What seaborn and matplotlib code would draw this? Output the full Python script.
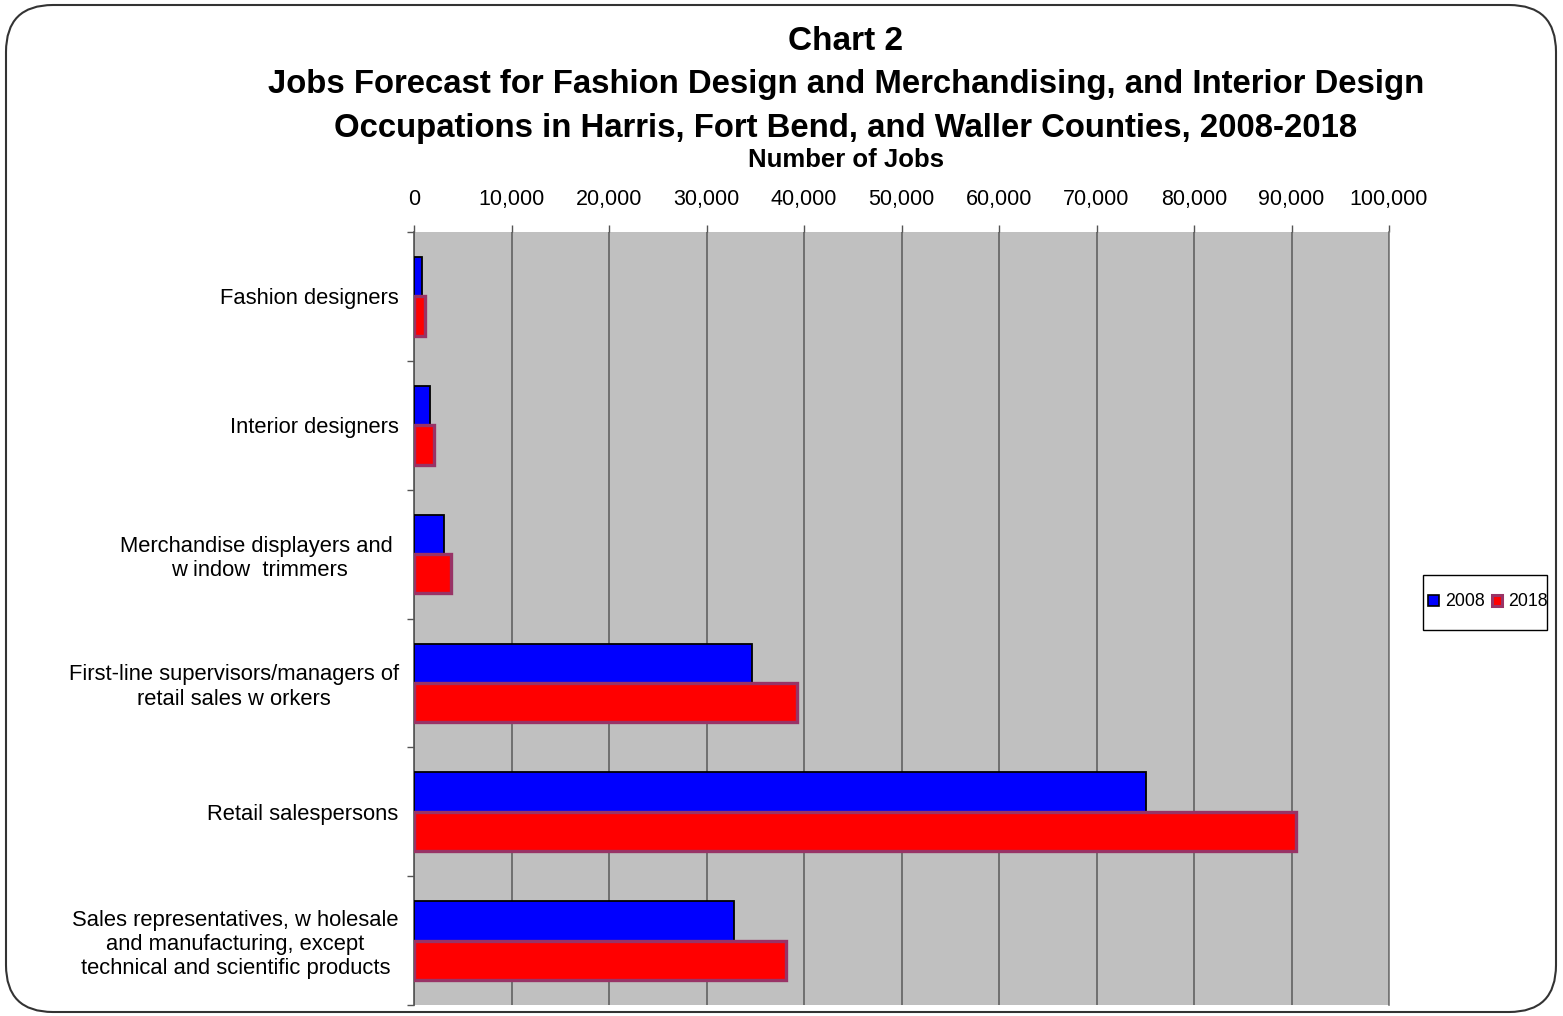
import matplotlib
matplotlib.use("Agg")
import matplotlib.pyplot as plt
import seaborn as sns
import pandas as pd
from matplotlib.patches import FancyBboxPatch, Rectangle, Patch
from matplotlib.ticker import FuncFormatter, MultipleLocator

categories = [
    "Fashion designers",
    "Interior designers",
    "Merchandise displayers and \nw indow  trimmers",
    "First-line supervisors/managers of\nretail sales w orkers",
    "Retail salespersons",
    "Sales representatives, w holesale\nand manufacturing, except\ntechnical and scientific products",
]
jobs_2008 = [850, 1650, 3100, 34700, 75100, 32800]
jobs_2018 = [1100, 2100, 3800, 39300, 90500, 38200]
years = ["2008", "2018"]

df = pd.DataFrame({
    "cat": categories * 2,
    "year": [years[0]] * len(categories) + [years[1]] * len(categories),
    "jobs": jobs_2008 + jobs_2018,
})

sns.set_theme(style="white")
plt.rcParams["font.family"] = ["Liberation Sans", "DejaVu Sans"]
plt.rcParams["text.color"] = "black"
plt.rcParams["xtick.color"] = "black"
plt.rcParams["ytick.color"] = "black"
plt.rcParams["axes.labelcolor"] = "black"

fig = plt.figure(figsize=(15.63, 10.16), dpi=100)
ax = fig.add_axes([414 / 1563, 1 - 1005 / 1016, (1389 - 414) / 1563, (1005 - 232) / 1016])

sns.barplot(data=df, y="cat", x="jobs", hue="year", orient="h",
            palette=["#0000FF", "#FF0000"], saturation=1, width=0.61, gap=0,
            dodge=True, ax=ax, legend=False)

edge = ["black", "#993366"]
lws = [1.3, 2.4]
for cont, ec, lw in zip(ax.containers, edge, lws):
    for p in cont:
        p.set_edgecolor(ec)
        p.set_linewidth(lw)
        p.set_zorder(3)

ax.set_facecolor("#C0C0C0")
ax.set_xlim(0, 100000)
ax.set_ylim(len(categories) - 0.5, -0.5)
ax.xaxis.set_major_locator(MultipleLocator(10000))
ax.xaxis.set_major_formatter(FuncFormatter(lambda v, p: f"{int(v):,}"))
ax.xaxis.tick_top()
ax.xaxis.set_label_position("top")
ax.grid(axis="x", color="#5a5a5a", linewidth=1.1, zorder=1)
ax.set_axisbelow(True)
ax.tick_params(axis="x", which="major", top=True, length=5, pad=11,
               labelsize=15.5, color="#555555", width=1)
ax.set_xlabel("")
ax.set_ylabel("")

ax.tick_params(axis="y", which="major", length=0, pad=11, labelsize=15.8)
for lab in ax.get_yticklabels():
    lab.set_multialignment("center")
    lab.set_linespacing(1.2)
ax.set_yticks([i + 0.5 for i in range(-1, len(categories))], minor=True)
ax.tick_params(axis="y", which="minor", left=True, length=5, color="#555555", width=1)

for s in ["top", "bottom"]:
    ax.spines[s].set_visible(False)
ax.spines["left"].set_color("#555555")
ax.spines["left"].set_linewidth(1.2)
ax.spines["right"].set_color("#777777")
ax.spines["right"].set_linewidth(1.2)

# titles
cx = 846 / 1563
fig.text(cx, 1 - 42 / 1016, "Chart 2", ha="center", va="center",
         fontsize=24, fontweight="bold")
fig.text(cx, 1 - 84 / 1016,
         "Jobs Forecast for Fashion Design and Merchandising, and Interior Design",
         ha="center", va="center", fontsize=23.7, fontweight="bold")
fig.text(cx, 1 - 129 / 1016,
         "Occupations in Harris, Fort Bend, and Waller Counties, 2008-2018",
         ha="center", va="center", fontsize=23.7, fontweight="bold")
fig.text(cx, 1 - 160 / 1016, "Number of Jobs", ha="center", va="center",
         fontsize=18.5, fontweight="bold")

# legend
handles = [Patch(facecolor="#0000FF", edgecolor="black", linewidth=1.2),
           Patch(facecolor="#FF0000", edgecolor="#993366", linewidth=2.2)]
leg = fig.legend(handles, years, loc="center", bbox_to_anchor=(1488 / 1563, 1 - 602 / 1016),
                 ncol=2, frameon=False, fontsize=12.8,
                 handlelength=0.6, handleheight=0.6, handletextpad=0.35,
                 columnspacing=0.4, borderpad=0, borderaxespad=0)
legbox = Rectangle((1423 / 1563, 1 - 630 / 1016), (1547 - 1423) / 1563, 55 / 1016,
                   transform=fig.transFigure, fill=False, edgecolor="black", linewidth=1.0)
fig.patches.append(legbox)

# rounded figure frame
frame = FancyBboxPatch((6 / 1563, 4 / 1016), (1556 - 6) / 1563, (1011 - 4) / 1016,
                       boxstyle="round,pad=0,rounding_size=0.03",
                       transform=fig.transFigure, fill=False,
                       edgecolor="#333333", linewidth=1.5, mutation_aspect=1563 / 1016)
fig.patches.append(frame)

fig.savefig("out.png", dpi=100)
